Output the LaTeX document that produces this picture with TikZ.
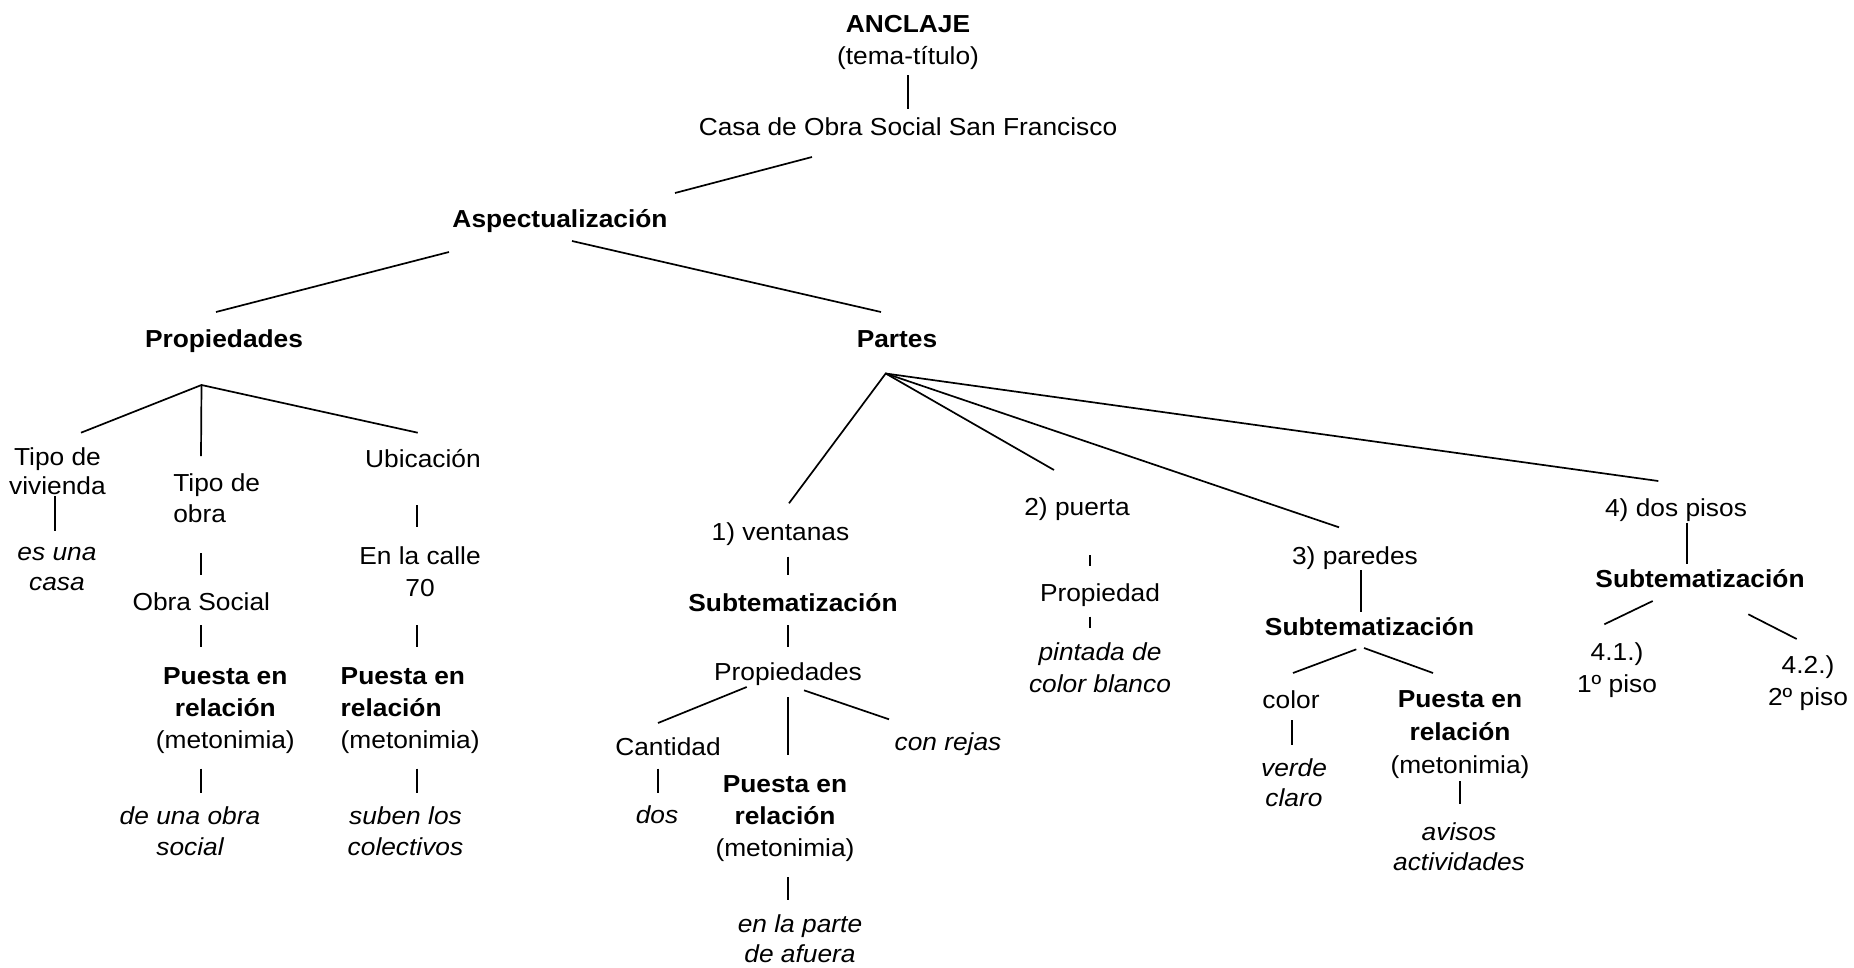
\documentclass[tikz,border=0pt]{standalone}
\usepackage{fontspec}
\setmainfont{Liberation Sans}[FakeStretch=1.07]
% stacked lines: #1 line pitch, #2 column alignment, #3 the lines
\newcommand{\mlines}[3]{{\fontsize{24.6}{#1}\selectfont\begin{tabular}[t]{@{}#2@{}}#3\end{tabular}}}
\begin{document}
\begin{tikzpicture}[x=1pt,y=-1pt,
  txt/.style={anchor=base,inner sep=0pt,outer sep=0pt,font=\fontsize{24.6}{30}\selectfont},
  txtl/.style={txt,anchor=base west},
  conn/.style={line width=1.7pt}]
\fill[white] (0,0) rectangle (1854,967);
\useasboundingbox (0,0) rectangle (1854,967);

% ---------- text ----------
\node[txt] (anclaje) at (908,32) {\textbf{ANCLAJE}};
\node[txt] (tema) at (908,64) {(tema-título)};
\node[txt] (casa) at (908,135) {Casa de Obra Social San Francisco};
\node[txt] (aspect) at (560,227.5) {\textbf{Aspectualización}};
\node[txt] (prop) at (224,347.5) {\textbf{Propiedades}};
\node[txt] (partes) at (897,347.5) {\textbf{Partes}};

% Propiedades branch
\node[txt] (tviv) at (57.5,465) {\mlines{29}{c}{Tipo de\\vivienda}};
\node[txtl] (tobra) at (173.3,491.5) {\mlines{31}{l}{Tipo de\\obra}};
\node[txt] (ubic) at (423,467.3) {Ubicación};
\node[txt] (casa2) at (57,560.7) {\mlines{29.3}{c}{\itshape es una\\\itshape casa}};
\node[txt] (osoc) at (201.3,610.7) {Obra Social};
\node[txt] (calle) at (420,564) {\mlines{32}{c}{En la calle\\70}};
\node[txt] (pr1) at (225.3,684.3) {\mlines{32.2}{c}{\textbf{Puesta en}\\\textbf{relación}\\(metonimia)}};
\node[txtl] (pr2) at (340.7,684.3) {\mlines{32.2}{l}{\textbf{Puesta en}\\\textbf{relación}\\(metonimia)}};
\node[txt] (obras) at (190,824.3) {\mlines{31}{c}{\itshape de una obra\\\itshape social}};
\node[txt] (colect) at (405.5,824.3) {\mlines{31}{c}{\itshape suben los\\\itshape colectivos}};

% Partes: 1) ventanas
\node[txt] (vent) at (780.5,540) {1) ventanas};
\node[txt] (subA) at (793,611.7) {\textbf{Subtematización}};
\node[txt] (propA) at (788,680.5) {Propiedades};
\node[txt] (cant) at (668,755.3) {Cantidad};
\node[txt] (rejas) at (948,750.3) {\itshape con rejas};
\node[txt] (dos) at (657,823.5) {\itshape dos};
\node[txt] (pr3) at (785,792) {\mlines{32.4}{c}{\textbf{Puesta en}\\\textbf{relación}\\(metonimia)}};
\node[txt] (afuera) at (800,932) {\mlines{30}{c}{\itshape en la parte\\\itshape de afuera}};

% Partes: 2) puerta
\node[txt] (puerta) at (1077,515) {2) puerta};
\node[txt] (propB) at (1100,601) {Propiedad};
\node[txt] (blanco) at (1100,660) {\mlines{32}{c}{\itshape pintada de\\\itshape color blanco}};

% Partes: 3) paredes
\node[txt] (pared) at (1355,564) {3) paredes};
\node[txt] (subC) at (1369.5,635.7) {\textbf{Subtematización}};
\node[txt] (color) at (1291,708) {color};
\node[txt] (verde) at (1294,776) {\mlines{30}{c}{\itshape verde\\\itshape claro}};
\node[txt] (pr4) at (1460,707.7) {\mlines{33}{c}{\textbf{Puesta en}\\\textbf{relación}\\(metonimia)}};
\node[txt] (avisos) at (1459,840.3) {\mlines{30}{c}{\itshape avisos\\\itshape actividades}};

% Partes: 4) dos pisos
\node[txt] (pisos) at (1676,516) {4) dos pisos};
\node[txt] (subD) at (1700,587.3) {\textbf{Subtematización}};
\node[txt] (piso1) at (1617,660) {\mlines{32}{c}{4.1.)\\1º piso}};
\node[txt] (piso2) at (1808,673) {\mlines{32}{c}{4.2.)\\2º piso}};

% ---------- line ends ----------
\coordinate (a1) at (908,75);    \coordinate (a2) at (908,109);
\coordinate (b1) at (812,157);   \coordinate (b2) at (675,193);
\coordinate (c1) at (449,252);   \coordinate (c2) at (216,312);
\coordinate (d1) at (572,241);   \coordinate (d2) at (881,312);
\coordinate (P) at (201.5,385);
\coordinate (p1) at (81,432.7);  \coordinate (p2) at (201,456);  \coordinate (p3) at (417.7,432.7);
\coordinate (e1) at (55,496);    \coordinate (e2) at (55,530.7);
\coordinate (f1) at (201,553.3); \coordinate (f2) at (201,575);
\coordinate (g1) at (417.3,505); \coordinate (g2) at (417.3,527.3);
\coordinate (h1) at (201,625);   \coordinate (h2) at (201,647.3);
\coordinate (i1) at (417.3,625); \coordinate (i2) at (417.3,647.3);
\coordinate (j1) at (201,768.7); \coordinate (j2) at (201,793);
\coordinate (k1) at (417.3,768.7); \coordinate (k2) at (417.3,793);
\coordinate (Q) at (885.7,373.5);
\coordinate (q1) at (789,503.3); \coordinate (q2) at (1054,470);
\coordinate (q3) at (1339,527.3); \coordinate (q4) at (1658.3,481);
\coordinate (m1) at (788,556.7); \coordinate (m2) at (788,575);
\coordinate (n1) at (788,625);   \coordinate (n2) at (788,647);
\coordinate (o1) at (746.7,687); \coordinate (o2) at (658,723);
\coordinate (r1) at (788,697);   \coordinate (r2) at (788,755);
\coordinate (s1) at (804,690.3); \coordinate (s2) at (889,719.3);
\coordinate (t1) at (658,768.7); \coordinate (t2) at (658,793);
\coordinate (u1) at (788,877);   \coordinate (u2) at (788,900);
\coordinate (v1) at (1089.7,555); \coordinate (v2) at (1089.7,566);
\coordinate (w1) at (1089.7,616.7); \coordinate (w2) at (1089.7,628.3);
\coordinate (x1) at (1360.7,570); \coordinate (x2) at (1360.7,611.7);
\coordinate (y1) at (1356.3,649.3); \coordinate (y2) at (1293,673);
\coordinate (z1) at (1364,648);  \coordinate (z2) at (1433,673);
\coordinate (aa1) at (1292.3,720); \coordinate (aa2) at (1292.3,745);
\coordinate (bb1) at (1460,781); \coordinate (bb2) at (1460,804.3);
\coordinate (cc1) at (1687.3,522.7); \coordinate (cc2) at (1687.3,564);
\coordinate (dd1) at (1652.7,601); \coordinate (dd2) at (1604.3,624.3);
\coordinate (ee1) at (1748.3,614.3); \coordinate (ee2) at (1796.7,639);

% ---------- connectors ----------
\draw[conn] (a1) -- (a2);
\draw[conn] (b1) -- (b2);
\draw[conn] (c1) -- (c2);
\draw[conn] (d1) -- (d2);
\draw[conn] (p1) -- (P) -- (p3);
\draw[conn] (P) -- (p2);
\draw[conn] (e1) -- (e2);
\draw[conn] (f1) -- (f2);
\draw[conn] (g1) -- (g2);
\draw[conn] (h1) -- (h2);
\draw[conn] (i1) -- (i2);
\draw[conn] (j1) -- (j2);
\draw[conn] (k1) -- (k2);
\draw[conn] (q1) -- (Q) -- (q2);
\draw[conn] (Q) -- (q3);
\draw[conn] (Q) -- (q4);
\draw[conn] (m1) -- (m2);
\draw[conn] (n1) -- (n2);
\draw[conn] (o1) -- (o2);
\draw[conn] (r1) -- (r2);
\draw[conn] (s1) -- (s2);
\draw[conn] (t1) -- (t2);
\draw[conn] (u1) -- (u2);
\draw[conn] (v1) -- (v2);
\draw[conn] (w1) -- (w2);
\draw[conn] (x1) -- (x2);
\draw[conn] (y1) -- (y2);
\draw[conn] (z1) -- (z2);
\draw[conn] (aa1) -- (aa2);
\draw[conn] (bb1) -- (bb2);
\draw[conn] (cc1) -- (cc2);
\draw[conn] (dd1) -- (dd2);
\draw[conn] (ee1) -- (ee2);
\end{tikzpicture}
\end{document}
